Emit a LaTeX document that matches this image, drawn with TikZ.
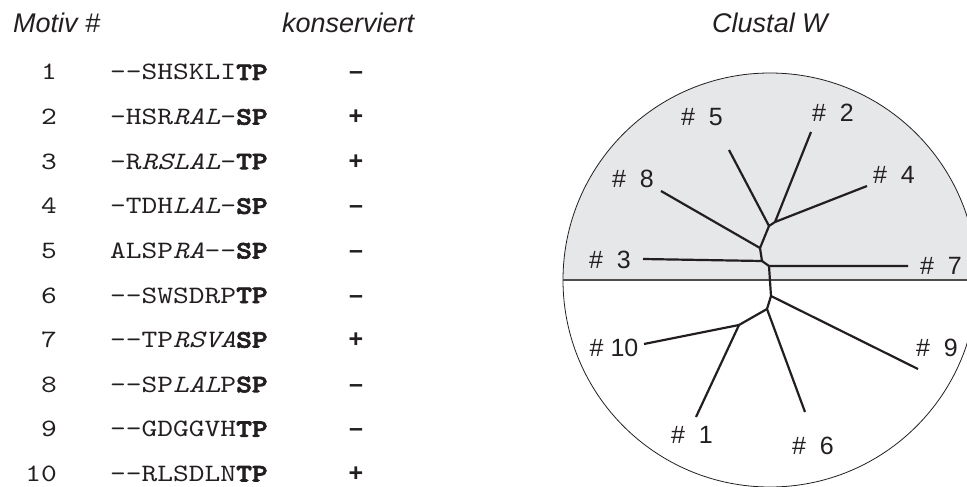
\documentclass[tikz,border=0pt]{standalone}
\usepackage{fontspec}
\setmainfont{Liberation Sans}
\setmonofont{lmmono10-regular}[Extension=.otf,ItalicFont=lmmono10-italic,
    BoldFont=lmmonolt10-bold,BoldFeatures={FakeBold=3},FakeStretch=1.2]
\usepackage{tikz}
\definecolor{ink}{HTML}{231F20}
\definecolor{paleg}{HTML}{E6E7E8}

\begin{document}
\begin{tikzpicture}[x=1pt,y=-1pt,
        head/.style={font=\fontsize{27}{32}\selectfont\itshape,text=ink,inner sep=0pt},
        num/.style={font=\fontsize{25}{30}\ttfamily,text=ink,inner sep=0pt,anchor=base east},
        seq/.style={font=\fontsize{25}{30}\ttfamily,text=ink,inner sep=0pt,anchor=base west},
        cons/.style={font=\fontsize{25}{30}\selectfont\bfseries,text=ink,inner sep=0pt,anchor=base},
        leaf/.style={font=\fontsize{25}{30}\selectfont,text=ink,inner sep=0pt},
        branch/.style={draw=ink,line width=2.2pt,line join=round}]
    \useasboundingbox (0,0) rectangle (967,487);

    % column heads
    \node[head,anchor=base west] (motiv) at (13,33) {Motiv \#};
    \node[head,anchor=base west] (kons) at (282,33) {konserviert};
    \node[head,anchor=base] (clustal) at (770,33) {Clustal W};

    % motifs
    \foreach \s/\c [count=\n] in {
            {--SHSKLI\textbf{TP}}/\textendash,
            {-HSR\textit{RAL}-\textbf{SP}}/+,
            {-R\textit{RSLAL}-\textbf{TP}}/+,
            {-TDH\textit{LAL}-\textbf{SP}}/\textendash,
            {ALSP\textit{RA}--\textbf{SP}}/\textendash,
            {--SWSDRP\textbf{TP}}/\textendash,
            {--TP\textit{RSVA}\textbf{SP}}/+,
            {--SP\textit{LAL}P\textbf{SP}}/\textendash,
            {--GDGGVH\textbf{TP}}/\textendash,
            {--RLSDLN\textbf{TP}}/+} {
        \node[num] (n\n) at (57,{80+44.6*(\n-1)}) {\n};
        \node[seq] (s\n) at (110,{80+44.6*(\n-1)}) {\s};
        \node[cons] (c\n) at (356,{80+44.6*(\n-1)}) {\c};
    }

    % the circle, upper half shaded
    \coordinate (mid) at (770,280);
    \begin{scope}
        \clip (0,0) rectangle (967,280);
        \fill[paleg] (mid) circle[radius=207];
    \end{scope}
    \draw[ink,line width=0.8pt] (mid) circle[radius=207];
    \coordinate (rimw) at (563,280);
    \coordinate (rime) at (977,280);
    \draw[ink!80,line width=1.4pt] (rimw) -- (rime);

    % tree
    \coordinate (a) at (775,222);
    \coordinate (b) at (769,226);
    \coordinate (c) at (760,248);
    \coordinate (d) at (762,261);
    \coordinate (e) at (769,266);
    \coordinate (f) at (771,296);
    \coordinate (g) at (767,309);
    \coordinate (h) at (739,325);
    \coordinate (t1) at (696,417);
    \coordinate (t2) at (811,132);
    \coordinate (t3) at (643,259);
    \coordinate (t4) at (867,186);
    \coordinate (t5) at (729,150);
    \coordinate (t6) at (805,412);
    \coordinate (t7) at (908,266);
    \coordinate (t8) at (661,191);
    \coordinate (t9) at (918,369);
    \coordinate (t10) at (644,344);
    \draw[branch] (t2) -- (a) -- (t4);
    \draw[branch] (a) -- (b) -- (t5);
    \draw[branch] (b) -- (c) -- (t8);
    \draw[branch] (c) -- (d) -- (t3);
    \draw[branch] (d) -- (e) -- (t7);
    \draw[branch] (e) -- (f) -- (t9);
    \draw[branch] (f) -- (g) -- (t6);
    \draw[branch] (g) -- (h) -- (t10);
    \draw[branch] (h) -- (t1);

    \node[leaf] (l1) at (692,435) {\#~~1};
    \node[leaf] (l2) at (833,113) {\#~~2};
    \node[leaf] (l3) at (610,260) {\#~~3};
    \node[leaf] (l4) at (894,175) {\#~~4};
    \node[leaf] (l5) at (702,117) {\#~~5};
    \node[leaf] (l6) at (813,446) {\#~~6};
    \node[leaf] (l7) at (941,266) {\#~~7};
    \node[leaf] (l8) at (633,179) {\#~~8};
    \node[leaf] (l9) at (937,348) {\#~~9};
    \node[leaf] (l10) at (614,348) {\#~10};
\end{tikzpicture}
\end{document}
